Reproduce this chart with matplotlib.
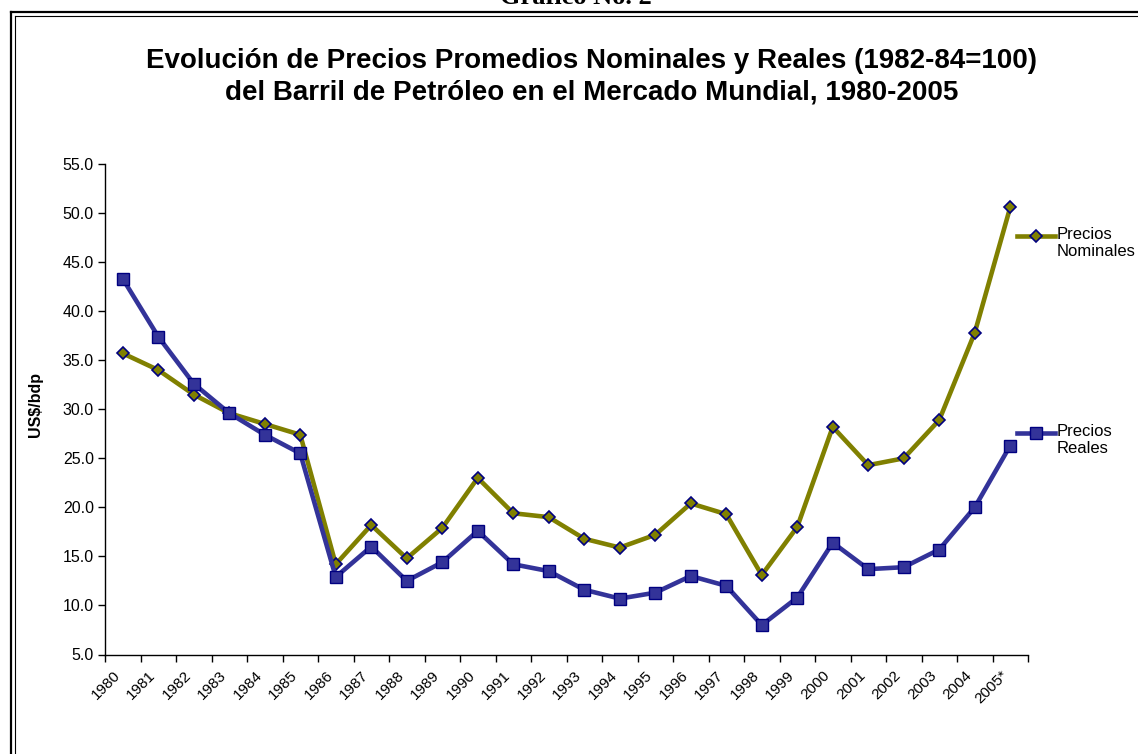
import matplotlib.pyplot as plt
from matplotlib.lines import Line2D
import numpy as np

# --- Daten ---
YEARS = ["1980", "1981", "1982", "1983", "1984", "1985", "1986", "1987", "1988",
         "1989", "1990", "1991", "1992", "1993", "1994", "1995", "1996", "1997",
         "1998", "1999", "2000", "2001", "2002", "2003", "2004", "2005*"]
NOMINALES = [35.7, 34.0, 31.5, 29.6, 28.5, 27.4, 14.2, 18.2, 14.8, 17.9, 23.0, 19.4,
             19.0, 16.8, 15.9, 17.2, 20.4, 19.3, 13.1, 18.0, 28.2, 24.3, 25.0, 28.9,
             37.8, 50.6]
REALES = [43.3, 37.4, 32.6, 29.6, 27.4, 25.5, 12.9, 16.0, 12.5, 14.4, 17.6, 14.2,
          13.5, 11.6, 10.7, 11.3, 13.0, 12.0, 8.0, 10.8, 16.4, 13.7, 13.9, 15.7,
          20.0, 26.3]
SERIES_LABELS = ["Precios\nNominales", "Precios\nReales"]

TITLE = ("Evolución de Precios Promedios Nominales y Reales (1982-84=100)\n"
         "del Barril de Petróleo en el Mercado Mundial, 1980-2005")

OLIVE = "#808000"
BLUE = "#333399"
NAVY = "#000080"

plt.rcParams["font.family"] = ["Liberation Sans", "DejaVu Sans"]

W, H = 1138, 754
fig = plt.figure(figsize=(W / 100, H / 100), dpi=100)
tf = fig.transFigure

# --- Rahmen (doppelte Linie) ---
fig.add_artist(Line2D([11 / W, 11 / W], [0, 1 - 12 / H], color="black", lw=1.6, transform=tf))
fig.add_artist(Line2D([11 / W, 1], [1 - 12 / H, 1 - 12 / H], color="black", lw=1.6, transform=tf))
fig.add_artist(Line2D([15 / W, 15 / W], [0, 1 - 15.5 / H], color="black", lw=0.8, transform=tf))
fig.add_artist(Line2D([15 / W, 1], [1 - 15.5 / H, 1 - 15.5 / H], color="black", lw=0.8, transform=tf))

# Überschrift oben, im Original angeschnitten
fig.text(576 / W, 1 - 4 / H, "Gráfico No. 2", ha="center", va="baseline",
         fontsize=19, fontweight="bold", family=["Liberation Serif", "DejaVu Serif"])

fig.text(592 / W, 1 - 77 / H, TITLE, ha="center", va="center", fontsize=20,
         fontweight="bold", linespacing=1.25)

ax = fig.add_axes([105 / W, 1 - 654.5 / H, (1028 - 105) / W, (654.5 - 164) / H])

x = np.arange(len(YEARS))
style_nom = dict(color=OLIVE, lw=3.3, marker="D", markersize=6.5,
                 markerfacecolor=OLIVE, markeredgecolor=NAVY, markeredgewidth=1.2)
style_real = dict(color=BLUE, lw=3.3, marker="s", markersize=8,
                  markerfacecolor=BLUE, markeredgecolor=NAVY, markeredgewidth=1)
ax.plot(x, NOMINALES, clip_on=False, **style_nom)
ax.plot(x, REALES, clip_on=False, **style_real)

ax.set_xlim(-0.5, len(YEARS) - 0.5)
ax.set_ylim(5, 55)
yt = np.arange(5, 55.1, 5)
ax.set_yticks(yt)
ax.set_yticklabels([f"{v:.1f}" for v in yt], fontsize=11.5)

# Ticks an den Kategoriegrenzen, Jahresbeschriftungen schräg darunter
ax.set_xticks(np.arange(-0.5, len(YEARS)))
ax.set_xticklabels([])
ax.tick_params(axis="x", length=5, width=1)
ax.tick_params(axis="y", length=5, width=1, pad=3)
for i, yr in enumerate(YEARS):
    ax.annotate(yr, xy=(i, 0), xycoords=("data", "axes fraction"),
                xytext=(-10, -14), textcoords="offset pixels",
                rotation=45, ha="right", va="top", rotation_mode="anchor",
                fontsize=11, annotation_clip=False)

for s in ["top", "right"]:
    ax.spines[s].set_visible(False)
for s in ["left", "bottom"]:
    ax.spines[s].set_linewidth(1)

ax.set_ylabel("US$/bdp", fontsize=11.5, fontweight="bold")
ax.yaxis.set_label_coords(-0.067, 0.509)

# --- Legende rechts (Muster auf Höhe der ersten Textzeile) ---
for style, label, ypix in [(style_nom, SERIES_LABELS[0], 236),
                           (style_real, SERIES_LABELS[1], 433)]:
    fig.add_artist(Line2D([1017 / W, 1055 / W], [1 - ypix / H] * 2, transform=tf,
                          markevery=[], **style))
    fig.add_artist(Line2D([1036 / W], [1 - ypix / H], transform=tf, **style))
    fig.text(1057 / W, 1 - (ypix - 9) / H, label, ha="left", va="top",
             fontsize=12, linespacing=1.15)

fig.savefig("out.png", dpi=100)
